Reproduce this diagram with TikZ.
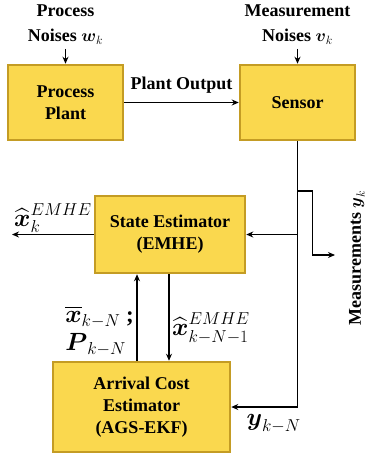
\documentclass[tikz,border=0pt]{standalone}
\usepackage{amsmath}
\usepackage{fontspec}
\setmainfont{LiberationSerif}[Extension=.ttf, UprightFont=*-Regular, BoldFont=*-Bold, ItalicFont=*-Italic, BoldItalicFont=*-BoldItalic]
\usetikzlibrary{arrows.meta, positioning, calc}
\definecolor{BoxYellow}{RGB}{250,216,78}
\definecolor{BoxEdge}{RGB}{196,156,36}

\begin{document}
\begin{tikzpicture}[
    x=1pt, y=-1pt,
    font=\fontsize{18}{22}\selectfont\bfseries,
    flow/.style={-{Stealth[length=7pt, width=6pt]}, line width=1.3pt, black},
    wire/.style={line width=1.3pt, black},
    block/.style={draw=BoxEdge, line width=2.5pt, fill=BoxYellow, align=center, inner sep=0pt},
    mlabel/.style={font=\fontsize{23}{26}\selectfont\bfseries, inner sep=0pt},
]
\useasboundingbox (0,0) rectangle (366,455);

% bloques
\node[block, minimum width=115pt, minimum height=75pt] (plant) at (65.5,102.5) {Process\\Plant};
\node[block, minimum width=115pt, minimum height=75pt] (sensor) at (297.5,102.5) {Sensor};
\node[block, minimum width=150pt, minimum height=77pt] (se) at (170,234.5) {State Estimator\\(EMHE)};
\node[block, minimum width=177pt, minimum height=90pt] (ac) at (141.5,407) {Arrival Cost\\Estimator\\(AGS-EKF)};

% ruidos
\node[anchor=north, inner sep=0pt, align=center] (pnoise) at (65.5,5) {Process\\[3pt]Noises $\boldsymbol{w}_k$};
\node[anchor=north, inner sep=0pt, align=center] (mnoise) at (297.5,5) {Measurement\\[3pt]Noises $\boldsymbol{v}_k$};
\draw[flow, shorten <=4pt] (pnoise.south -| plant.north) -- (plant.north);
\draw[flow, shorten <=4pt] (mnoise.south -| sensor.north) -- (sensor.north);

% planta -> sensor
\draw[flow] (plant) -- node[above=9pt, inner sep=0pt] (outlbl) {Plant Output} (sensor);

% medidas
\coordinate (ybranch) at (297.5,191);
\coordinate (ymeas) at (335,255);
\coordinate (xout) at (12,234.5);
\coordinate (upx) at (137,0);
\coordinate (downx) at (169,0);
\draw[wire] (sensor.south) -- (sensor.south |- ac.east);
\draw[flow] (sensor.south |- se.east) -- (se.east);
\draw[flow] (ybranch) -- ++(15,0) |- (ymeas);
\draw[flow] (sensor.south |- ac.east) -- node[pos=0.36, below=7pt, mlabel] (ylbl) {$\boldsymbol{y}_{k-N}$} (ac.east);
\node[rotate=90, inner sep=0pt] (ymlbl) at (357,258) {Measurements $\boldsymbol{y}_k$};

% estimador
\draw[flow] (se.west) -- node[above=1pt, mlabel] (xhatlbl) {$\widehat{\boldsymbol{x}}_k^{EMHE}$} (xout);
\draw[flow] (ac.north -| upx) -- (se.south -| upx);
\draw[flow] (se.south -| downx) -- (ac.north -| downx);
\node[mlabel, anchor=east, align=left] (priorlbl) at (134,331) {$\overline{\boldsymbol{x}}_{k-N}$ ;\\[2pt]$\boldsymbol{P}_{k-N}$};
\node[mlabel, anchor=west] (pastlbl) at (172,328) {$\widehat{\boldsymbol{x}}_{k-N-1}^{EMHE}$};

\end{tikzpicture}
\end{document}
